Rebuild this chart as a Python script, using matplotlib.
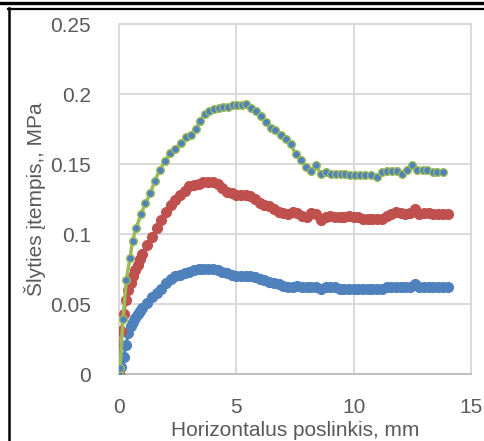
import matplotlib
matplotlib.use("Agg")
import matplotlib.pyplot as plt
from matplotlib.lines import Line2D

# data
blue_x = [0.0, 0.1, 0.2, 0.3, 0.4, 0.5, 0.6, 0.7, 0.8, 0.9, 1.0, 1.2, 1.4, 1.6, 1.8,
          2.0, 2.2, 2.4, 2.6, 2.8, 3.0, 3.2, 3.4, 3.6, 3.8, 4.0, 4.2, 4.4, 4.6, 4.8,
          5.0, 5.2, 5.4, 5.6, 5.8, 6.0, 6.2, 6.4, 6.6, 6.8, 7.0, 7.2, 7.4, 7.6, 7.8,
          8.0, 8.2, 8.4, 8.6, 8.8, 9.0, 9.2, 9.4, 9.6, 9.8, 10.0, 10.2, 10.4, 10.6, 10.8,
          11.0, 11.2, 11.4, 11.6, 11.8, 12.0, 12.2, 12.4, 12.6, 12.8, 13.0, 13.2, 13.4,
          13.6, 13.8, 14.0]
blue_y = [0.0, 0.005, 0.012, 0.021, 0.029, 0.034, 0.037, 0.040, 0.043, 0.045, 0.047,
          0.051, 0.055, 0.058, 0.061, 0.065, 0.068, 0.070, 0.071, 0.072, 0.073, 0.074,
          0.075, 0.075, 0.075, 0.075, 0.074, 0.073, 0.072, 0.071, 0.070, 0.070, 0.070,
          0.070, 0.069, 0.068, 0.067, 0.066, 0.065, 0.064, 0.063, 0.062, 0.062, 0.063,
          0.062, 0.062, 0.062, 0.062, 0.061, 0.062, 0.062, 0.062, 0.061, 0.061, 0.061,
          0.061, 0.061, 0.061, 0.061, 0.061, 0.061, 0.061, 0.062, 0.062, 0.062, 0.062,
          0.062, 0.062, 0.064, 0.062, 0.062, 0.062, 0.062, 0.062, 0.062, 0.062]

red_x = blue_x
red_y = [0.0, 0.031, 0.043, 0.053, 0.060, 0.065, 0.070, 0.074, 0.078, 0.082, 0.086,
         0.092, 0.098, 0.104, 0.110, 0.116, 0.121, 0.124, 0.128, 0.131, 0.134, 0.135,
         0.136, 0.137, 0.137, 0.137, 0.136, 0.133, 0.130, 0.129, 0.128, 0.128, 0.128,
         0.127, 0.125, 0.122, 0.121, 0.120, 0.118, 0.116, 0.115, 0.114, 0.116, 0.115,
         0.113, 0.112, 0.115, 0.114, 0.110, 0.112, 0.113, 0.112, 0.112, 0.112, 0.113,
         0.112, 0.112, 0.111, 0.111, 0.111, 0.111, 0.111, 0.113, 0.114, 0.116, 0.115,
         0.114, 0.115, 0.118, 0.114, 0.115, 0.115, 0.114, 0.114, 0.114, 0.114]

green_x = [0.0, 0.04, 0.17, 0.31, 0.47, 0.58, 0.72, 0.94, 1.12, 1.34, 1.52, 1.75, 1.96,
           2.17, 2.39, 2.64, 2.86, 3.05, 3.28, 3.45, 3.65, 3.85, 4.05, 4.25, 4.45, 4.64,
           4.84, 5.04, 5.23, 5.41, 5.61, 5.84, 6.04, 6.25, 6.46, 6.66, 6.89, 7.12, 7.32,
           7.53, 7.76, 7.97, 8.18, 8.39, 8.59, 8.81, 9.02, 9.23, 9.44, 9.65, 9.84, 10.04,
           10.27, 10.48, 10.72, 10.98, 11.19, 11.41, 11.63, 11.86, 12.06, 12.26, 12.5,
           12.71, 12.94, 13.14, 13.37, 13.56, 13.79]
green_y = [0.0, 0.004, 0.039, 0.067, 0.083, 0.095, 0.104, 0.114, 0.122, 0.129, 0.138,
           0.146, 0.152, 0.158, 0.161, 0.165, 0.169, 0.171, 0.175, 0.181, 0.186, 0.188,
           0.189, 0.190, 0.191, 0.191, 0.192, 0.192, 0.192, 0.193, 0.190, 0.188, 0.184,
           0.180, 0.176, 0.174, 0.171, 0.168, 0.164, 0.157, 0.153, 0.148, 0.145, 0.149,
           0.143, 0.144, 0.143, 0.143, 0.143, 0.143, 0.142, 0.142, 0.142, 0.142, 0.142,
           0.141, 0.144, 0.145, 0.145, 0.145, 0.143, 0.146, 0.149, 0.146, 0.146, 0.146,
           0.144, 0.144, 0.144]

x_ticks = [0, 5, 10, 15]
y_ticks = [0, 0.05, 0.1, 0.15, 0.2, 0.25]
y_labels = ["0", "0.05", "0.1", "0.15", "0.2", "0.25"]

W, H = 485, 441
plt.rcParams['font.family'] = ['Liberation Sans', 'DejaVu Sans']
fig = plt.figure(figsize=(W / 100, H / 100), dpi=100)
ax = fig.add_axes([119 / W, 1 - 374 / H, 352 / W, 350 / H])

blue = '#4F81BD'
red = '#C0504D'
green = '#9BBB59'
txt = '#595959'

ax.plot(blue_x, blue_y, '-o', color=blue, lw=2.2, ms=7, mec=blue, mfc=blue, zorder=3)
ax.plot(red_x, red_y, '-o', color=red, lw=2.2, ms=7, mec=red, mfc=red, zorder=4)
ax.plot(green_x, green_y, '-o', color=green, lw=2.5, ms=5.5, mec=green, mfc=blue,
        mew=1.0, zorder=5)

ax.set_xlim(0, 15)
ax.set_ylim(0, 0.25)
ax.set_xticks(x_ticks)
ax.set_yticks(y_ticks)
ax.set_yticklabels(y_labels)
ax.grid(True, color='#D9D9D9', lw=1.4)
ax.set_axisbelow(True)
for s in ax.spines.values():
    s.set_color('#D9D9D9')
    s.set_linewidth(1.4)
ax.spines['bottom'].set_color('#BFBFBF')
ax.tick_params(length=0, labelsize=15, labelcolor=txt)
ax.tick_params(axis='x', pad=17)
ax.tick_params(axis='y', pad=20)
ax.set_xlabel('Horizontalus poslinkis, mm', fontsize=15, color=txt, labelpad=3)
fig.text(35 / W, 1 - 199 / H, 'Šlyties įtempis,, MPa', rotation=90, fontsize=15,
         color=txt, ha='center', va='center')

# black frame lines from the screenshot
def px_line(x0, y0, x1, y1, lw):
    fig.add_artist(Line2D([x0 / W, x1 / W], [1 - y0 / H, 1 - y1 / H],
                          transform=fig.transFigure, color='black', lw=lw))

px_line(0, 2.5, W, 2.5, 2.4)
px_line(8, 9, W, 9, 1.6)
px_line(9.5, 8, 9.5, H, 1.8)

fig.savefig('out.png', dpi=100)
